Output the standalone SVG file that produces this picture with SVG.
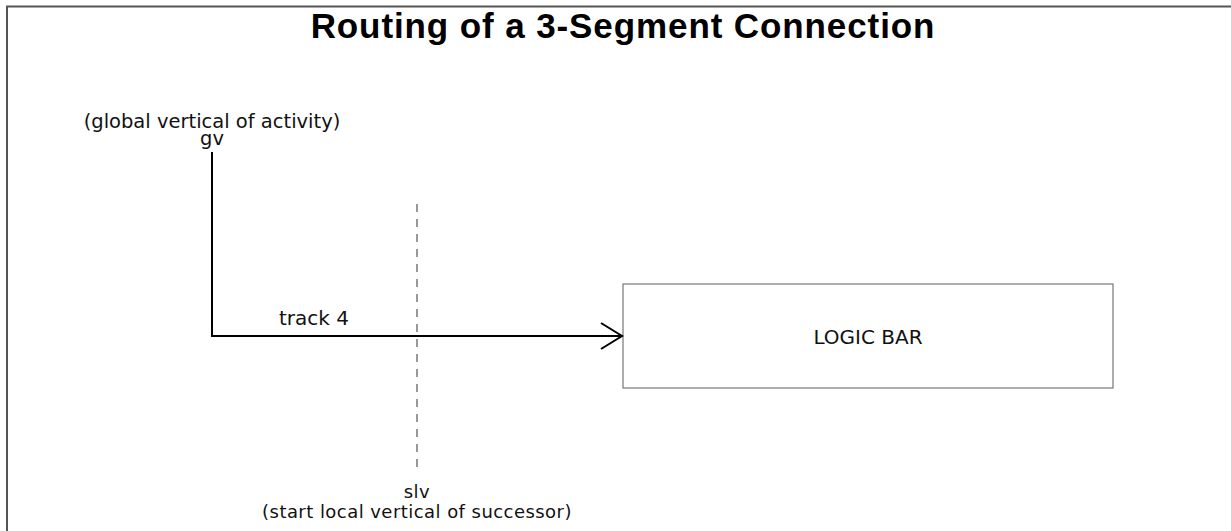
<svg xmlns="http://www.w3.org/2000/svg" width="1231" height="531" viewBox="0 0 1231 531">
<style>
.t{font-family:"DejaVu Sans","Liberation Sans",sans-serif;fill:#111;text-anchor:middle}
.title{font-family:"Liberation Sans",Arial,sans-serif;font-size:35px;font-weight:bold;fill:#000;text-anchor:middle;letter-spacing:0.9px}
.conn{fill:none;stroke:#000;stroke-width:2}
</style>
<rect x="0" y="0" width="1231" height="531" fill="#fff"/>
<path d="M7 531 V6.5 H1231" fill="none" stroke="#555" stroke-width="2"/>
<text class="title" x="623" y="37.5">Routing of a 3-Segment Connection</text>
<g id="gv">
<text class="t" x="212" y="128" style="font-size:19.5px">(global vertical of activity)</text>
<text class="t" x="212" y="145" style="font-size:19.5px">gv</text>
</g>
<g id="slv">
<line x1="417" y1="204" x2="417" y2="468" stroke="#555" stroke-width="1.2" stroke-dasharray="8 7"/>
<text class="t" x="417" y="498" style="font-size:18px;letter-spacing:0.45px">slv</text>
<text class="t" x="417" y="518" style="font-size:18px;letter-spacing:0.45px">(start local vertical of successor)</text>
</g>
<g id="logic-bar">
<rect x="623" y="284" width="490" height="104" fill="#fff" stroke="#777" stroke-width="1.2"/>
<text class="t" x="868" y="344" style="font-size:20px">LOGIC BAR</text>
</g>
<g id="connectors">
<path class="conn" d="M212 152 V336 H622"/>
<path class="conn" d="M601 323 L622 336 L601 349"/>
<text class="t" x="314" y="325" style="font-size:20px">track 4</text>
</g>
</svg>
